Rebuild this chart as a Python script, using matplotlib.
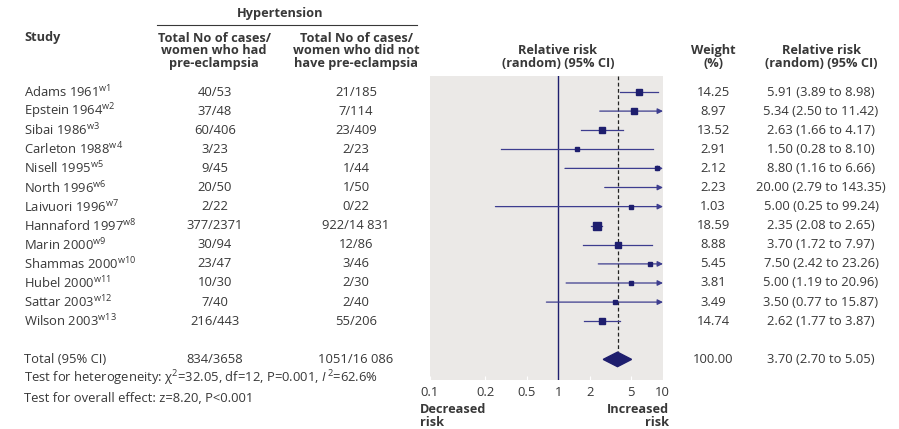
import matplotlib
matplotlib.use("Agg")
from matplotlib import pyplot as plt
from matplotlib.patches import Polygon

# study data
studies = ["Adams 1961", "Epstein 1964", "Sibai 1986", "Carleton 1988", "Nisell 1995",
           "North 1996", "Laivuori 1996", "Hannaford 1997", "Marin 2000", "Shammas 2000",
           "Hubel 2000", "Sattar 2003", "Wilson 2003"]
refs = ["w1", "w2", "w3", "w4", "w5", "w6", "w7", "w8", "w9", "w10", "w11", "w12", "w13"]
cases_pe = ["40/53", "37/48", "60/406", "3/23", "9/45", "20/50", "2/22", "377/2371",
            "30/94", "23/47", "10/30", "7/40", "216/443"]
cases_no_pe = ["21/185", "7/114", "23/409", "2/23", "1/44", "1/50", "0/22", "922/14 831",
               "12/86", "3/46", "2/30", "2/40", "55/206"]
weight = [14.25, 8.97, 13.52, 2.91, 2.12, 2.23, 1.03, 18.59, 8.88, 5.45, 3.81, 3.49, 14.74]
rr = [5.91, 5.34, 2.63, 1.50, 8.80, 20.00, 5.00, 2.35, 3.70, 7.50, 5.00, 3.50, 2.62]
lo = [3.89, 2.50, 1.66, 0.28, 1.16, 2.79, 0.25, 2.08, 1.72, 2.42, 1.19, 0.77, 1.77]
hi = [8.98, 11.42, 4.17, 8.10, 66.6, 143.35, 99.24, 2.65, 7.97, 23.26, 20.96, 15.87, 3.87]
rr_text = ["5.91 (3.89 to 8.98)", "5.34 (2.50 to 11.42)", "2.63 (1.66 to 4.17)",
           "1.50 (0.28 to 8.10)", "8.80 (1.16 to 6.66)", "20.00 (2.79 to 143.35)",
           "5.00 (0.25 to 99.24)", "2.35 (2.08 to 2.65)", "3.70 (1.72 to 7.97)",
           "7.50 (2.42 to 23.26)", "5.00 (1.19 to 20.96)", "3.50 (0.77 to 15.87)",
           "2.62 (1.77 to 3.87)"]

total_cases_pe = "834/3658"
total_cases_no_pe = "1051/16 086"
total_weight = 100.00
total_rr, total_lo, total_hi = 3.70, 2.70, 5.05

ticks = [0.1, 0.2, 0.5, 1, 2, 5, 10]

TXT = "#383838"
NAVY = "#1e1e6e"
LINE = "#3d3d8f"
PANEL = "#ebe9e7"

plt.rcParams["font.family"] = ["Open Sans", "DejaVu Sans"]
plt.rcParams["mathtext.fontset"] = "custom"
plt.rcParams["mathtext.rm"] = "Open Sans"
plt.rcParams["mathtext.it"] = "Open Sans:italic"

W, H = 899, 429
fig = plt.figure(figsize=(W / 100, H / 100), dpi=100)

# background axes in pixel units for the table text
bg = fig.add_axes([0, 0, 1, 1])
bg.set_xlim(0, W)
bg.set_ylim(H, 0)
bg.axis("off")

row0, step = 92, 19.1
fs = 9.4
hfs = 9.2

bg.text(280, 14, "Hypertension", fontsize=hfs, fontweight="bold", color=TXT, ha="center", va="center")
bg.plot([157, 417], [24.5, 24.5], color=TXT, lw=0.8)
bg.text(24, 37, "Study", fontsize=hfs, fontweight="bold", color=TXT, ha="left", va="center")
bg.text(214, 51, "Total No of cases/\nwomen who had\npre-eclampsia", fontsize=hfs, fontweight="bold",
        color=TXT, ha="center", va="center", linespacing=0.98)
bg.text(356, 51, "Total No of cases/\nwomen who did not\nhave pre-eclampsia", fontsize=hfs, fontweight="bold",
        color=TXT, ha="center", va="center", linespacing=0.98)
bg.text(558, 57, "Relative risk\n(random) (95% CI)", fontsize=hfs, fontweight="bold", color=TXT,
        ha="center", va="center", linespacing=0.98)
bg.text(713, 57, "Weight\n(%)", fontsize=hfs, fontweight="bold", color=TXT, ha="center", va="center",
        linespacing=0.98)
bg.text(821, 57, "Relative risk\n(random) (95% CI)", fontsize=hfs, fontweight="bold", color=TXT,
        ha="center", va="center", linespacing=0.98)

for i in range(len(studies)):
    y = row0 + i * step
    bg.text(24, y, studies[i] + r"$^{\mathrm{" + refs[i] + "}}$", fontsize=fs, color=TXT, ha="left", va="center")
    bg.text(215, y, cases_pe[i], fontsize=fs, color=TXT, ha="center", va="center")
    bg.text(356, y, cases_no_pe[i], fontsize=fs, color=TXT, ha="center", va="center")
    bg.text(713, y, "%.2f" % weight[i], fontsize=fs, color=TXT, ha="center", va="center")
    bg.text(821, y, rr_text[i], fontsize=fs, color=TXT, ha="center", va="center")

ty = row0 + 14 * step
bg.text(24, ty, "Total (95% CI)", fontsize=fs, color=TXT, ha="left", va="center")
bg.text(215, ty, total_cases_pe, fontsize=fs, color=TXT, ha="center", va="center")
bg.text(356, ty, total_cases_no_pe, fontsize=fs, color=TXT, ha="center", va="center")
bg.text(713, ty, "%.2f" % total_weight, fontsize=fs, color=TXT, ha="center", va="center")
bg.text(821, ty, "%.2f (%.2f to %.2f)" % (total_rr, total_lo, total_hi), fontsize=fs, color=TXT,
        ha="center", va="center")
bg.text(24, 378, r"Test for heterogeneity: χ$^2$=32.05, df=12, P=0.001, $I^{\,2}$=62.6%", fontsize=fs,
        color=TXT, ha="left", va="center")
bg.text(24, 398, "Test for overall effect: z=8.20, P<0.001", fontsize=fs, color=TXT, ha="left", va="center")

bg.text(420, 416, "Decreased\nrisk", fontsize=hfs, fontweight="bold", color=TXT, ha="left", va="center",
        linespacing=0.95)
bg.text(669, 416, "Increased\nrisk", fontsize=hfs, fontweight="bold", color=TXT, ha="right", va="center",
        linespacing=0.95, multialignment="right")

# forest plot axes
x0, x1, y0, y1 = 430, 663, 76, 380
ax = fig.add_axes([x0 / W, 1 - y1 / H, (x1 - x0) / W, (y1 - y0) / H])
ax.set_facecolor(PANEL)
ax.set_xscale("log")
xmin, xmax = 0.059, 10.1
ax.set_xlim(xmin, xmax)
ax.set_ylim((y1 - row0) / step, (y0 - row0) / step)
for s in ax.spines.values():
    s.set_visible(False)
ax.set_yticks([])
ax.set_xticks([xmin] + ticks[1:])
ax.set_xticklabels([str(t) for t in ticks], fontsize=fs, color=TXT)
ax.xaxis.set_minor_locator(matplotlib.ticker.NullLocator())
ax.tick_params(axis="x", direction="in", length=3, color="white", pad=4)

ax.axvline(1, color=NAVY, lw=1.0, zorder=2)
ax.plot([total_rr, total_rr], [(y0 - row0) / step, 14 - 0.37], color="#222222", lw=0.9,
        ls=(0, (3, 2)), zorder=2)

for i in range(len(studies)):
    right = min(hi[i], xmax)
    if hi[i] > xmax:
        ax.annotate("", xy=(xmax, i), xytext=(lo[i], i),
                    arrowprops=dict(arrowstyle="-|>", color=LINE, lw=0.9, mutation_scale=8,
                                    shrinkA=0, shrinkB=0), zorder=3)
    else:
        ax.plot([lo[i], right], [i, i], color=LINE, lw=0.9, zorder=3)
    if rr[i] <= xmax:
        ms = (3.5 + 0.2 * weight[i]) * 0.72
        ax.plot(rr[i], i, marker="s", ms=ms, color=NAVY, mec=NAVY, zorder=4)

h = 0.38
ax.add_patch(Polygon([[total_lo, 14], [total_rr, 14 - h], [total_hi, 14], [total_rr, 14 + h]],
                     closed=True, color=NAVY, zorder=4))

fig.savefig("out.png", dpi=100)
